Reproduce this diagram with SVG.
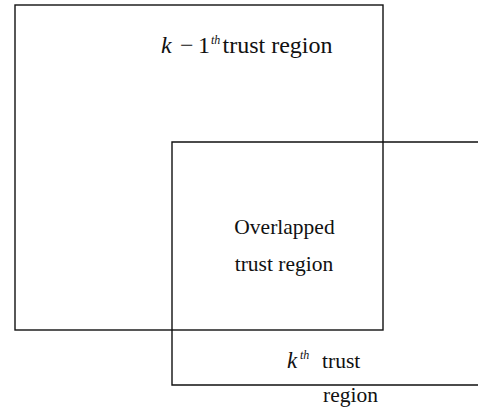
<svg xmlns="http://www.w3.org/2000/svg" width="478" height="412" viewBox="0 0 478 412">
<style>
.box{fill:none;stroke:#111;stroke-width:1.4}
.t{font-family:"Liberation Serif",serif;font-size:21.5px;fill:#111}
.big{font-size:24px}
.i{font-style:italic}
.sup{font-size:12px;font-style:italic}
</style>
<rect width="478" height="412" fill="#fff"/>
<g id="prev-region">
<rect class="box" x="15" y="5" width="368" height="325"/>
<text class="t big" y="53"><tspan class="i" x="161">k</tspan><tspan x="180">−</tspan><tspan x="198">1</tspan><tspan class="sup" x="211" y="44">th</tspan><tspan x="222.5" y="53">trust region</tspan></text>
</g>
<g id="curr-region">
<path class="box" d="M480 142 H172 V385 H480"/>
<text class="t" y="368"><tspan class="i" x="287" font-size="23">k</tspan><tspan class="sup" x="300" y="359">th</tspan><tspan x="322" y="368">trust</tspan></text>
<text class="t" x="350.5" y="402" text-anchor="middle">region</text>
</g>
<g id="overlap">
<text class="t" x="284.5" y="234" text-anchor="middle">Overlapped</text>
<text class="t" x="284" y="271" text-anchor="middle">trust region</text>
</g>
<g id="connectors"/>
</svg>
